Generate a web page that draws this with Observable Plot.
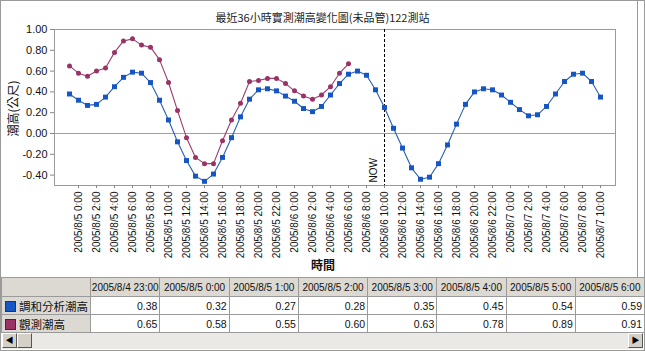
<!DOCTYPE html>
<html><head><meta charset="utf-8">
<script src="https://cdn.jsdelivr.net/npm/d3@7"></script>
<script src="https://cdn.jsdelivr.net/npm/@observablehq/plot@0.6"></script>
<style>
body{margin:0;background:#fff;font-family:"Liberation Sans",Arial,"Noto Sans CJK TC",sans-serif;}
#wrap{position:relative;width:645px;height:351px;overflow:hidden;background:#fff;}
#border{position:absolute;left:0;top:0;width:645px;height:351px;box-sizing:border-box;border:1px solid #9a9a9a;pointer-events:none;}
#panel{position:absolute;left:637px;top:0;width:1px;height:277px;background:#9a9a9a;}
#title{position:absolute;top:9px;left:0;width:645px;text-align:center;font-size:11px;color:#222;font-family:"Noto Sans CJK TC","Liberation Sans",sans-serif;}
#chart{position:absolute;left:0;top:0;}
#tbl{position:absolute;left:1px;top:277px;border-collapse:collapse;table-layout:fixed;font-size:10.5px;color:#111;}
#tbl td{border:1px solid #9a9a9a;padding:0 2px;white-space:nowrap;overflow:hidden;}
#tbl tr.h td{height:18px;background:#dcd9d3;text-align:center;font-size:10px;padding:0;}
#tbl tr.b td{height:17px;text-align:right;background:#fff;}
#tbl tr.b td.lab{background:#dcd9d3;text-align:left;font-size:11.5px;font-family:"Noto Sans CJK TC",sans-serif;padding-left:3px;}
.sw{display:inline-block;width:9px;height:9px;border:1px solid #333;vertical-align:-1px;margin-right:3px;}
#scroll{position:absolute;left:2px;top:333px;width:641px;height:16px;background:#ebe9e5;}
.btn{position:absolute;top:0;width:15px;height:15px;background:#d4d0c8;border:1px solid;border-color:#fff #555 #555 #fff;box-sizing:border-box;font-size:8px;line-height:13px;text-align:center;color:#000;}
</style></head>
<body>
<div id="wrap">
<div id="chart"></div>
<div id="title"></div>
<div id="panel"></div>
<table id="tbl"></table>
<div id="scroll"><div class="btn" style="left:0">◀</div><div class="btn" style="left:15px"></div><div class="btn" style="right:0">▶</div></div>
<div id="border"></div>
</div>
<script>
const titleText = "最近36小時實測潮高變化圖(未品管)122測站";
const yLabel = "潮高(公尺)";
const xLabel = "時間";
const nowTime = "2005/8/6 10:00";
const nowText = "NOW";
const seriesNames = ["調和分析潮高", "觀測潮高"];
const seriesColors = ["#1656c4", "#993366"];
const yTicks = [-0.4, -0.2, 0, 0.2, 0.4, 0.6, 0.8, 1.0];
const times = [
"2005/8/4 23:00",
"2005/8/5 0:00","2005/8/5 1:00","2005/8/5 2:00","2005/8/5 3:00","2005/8/5 4:00","2005/8/5 5:00",
"2005/8/5 6:00","2005/8/5 7:00","2005/8/5 8:00","2005/8/5 9:00","2005/8/5 10:00","2005/8/5 11:00",
"2005/8/5 12:00","2005/8/5 13:00","2005/8/5 14:00","2005/8/5 15:00","2005/8/5 16:00","2005/8/5 17:00",
"2005/8/5 18:00","2005/8/5 19:00","2005/8/5 20:00","2005/8/5 21:00","2005/8/5 22:00","2005/8/5 23:00",
"2005/8/6 0:00","2005/8/6 1:00","2005/8/6 2:00","2005/8/6 3:00","2005/8/6 4:00","2005/8/6 5:00",
"2005/8/6 6:00","2005/8/6 7:00","2005/8/6 8:00","2005/8/6 9:00","2005/8/6 10:00","2005/8/6 11:00",
"2005/8/6 12:00","2005/8/6 13:00","2005/8/6 14:00","2005/8/6 15:00","2005/8/6 16:00","2005/8/6 17:00",
"2005/8/6 18:00","2005/8/6 19:00","2005/8/6 20:00","2005/8/6 21:00","2005/8/6 22:00","2005/8/6 23:00",
"2005/8/7 0:00","2005/8/7 1:00","2005/8/7 2:00","2005/8/7 3:00","2005/8/7 4:00","2005/8/7 5:00",
"2005/8/7 6:00","2005/8/7 7:00","2005/8/7 8:00","2005/8/7 9:00","2005/8/7 10:00"
];
const xTickLabels = [
"2005/8/5 0:00","2005/8/5 2:00","2005/8/5 4:00","2005/8/5 6:00","2005/8/5 8:00","2005/8/5 10:00",
"2005/8/5 12:00","2005/8/5 14:00","2005/8/5 16:00","2005/8/5 18:00","2005/8/5 20:00","2005/8/5 22:00",
"2005/8/6 0:00","2005/8/6 2:00","2005/8/6 4:00","2005/8/6 6:00","2005/8/6 8:00","2005/8/6 10:00",
"2005/8/6 12:00","2005/8/6 14:00","2005/8/6 16:00","2005/8/6 18:00","2005/8/6 20:00","2005/8/6 22:00",
"2005/8/7 0:00","2005/8/7 2:00","2005/8/7 4:00","2005/8/7 6:00","2005/8/7 8:00","2005/8/7 10:00"
];
const harmonic = [
0.38,0.32,0.27,0.28,0.35,0.45,0.54,0.59,0.58,0.49,
0.32,0.13,-0.08,-0.26,-0.41,-0.46,-0.39,-0.23,-0.04,0.16,
0.33,0.42,0.43,0.41,0.36,0.31,0.24,0.21,0.26,0.37,
0.48,0.57,0.60,0.56,0.42,0.25,0.05,-0.14,-0.33,-0.44,
-0.42,-0.29,-0.11,0.09,0.28,0.40,0.43,0.42,0.37,0.30,
0.23,0.17,0.18,0.26,0.38,0.50,0.57,0.58,0.50,0.35
];
const observed = [
0.65,0.58,0.55,0.60,0.63,0.78,0.89,0.91,0.85,0.83,
0.71,0.49,0.22,-0.04,-0.23,-0.29,-0.29,-0.07,0.13,0.29,
0.50,0.51,0.53,0.53,0.48,0.41,0.36,0.33,0.37,0.45,
0.58,0.67
];
const tableCols = 8;

document.getElementById("title").textContent = titleText;

const hData = harmonic.map((v, i) => ({t: times[i], v}));
const oData = observed.map((v, i) => ({t: times[i], v}));

const chart = Plot.plot({
  width: 645, height: 277,
  marginLeft: 54, marginRight: 30, marginTop: 29, marginBottom: 92,
  style: {fontFamily: "'Liberation Sans', Arial, sans-serif", background: "transparent", color: "#111"},
  x: {type: "point", domain: times, padding: 0.5},
  y: {domain: [-0.5, 1.0]},
  marks: [
    Plot.ruleY([0], {stroke: "#a0a0a0"}),
    Plot.frame({stroke: "#9a9a9a"}),
    Plot.axisY({ticks: yTicks, tickFormat: d => d.toFixed(2), tickSize: 4, tickPadding: 3, fontSize: 11, label: null, stroke: "#888"}),
    Plot.axisX({ticks: xTickLabels, tickRotate: -90, tickSize: 3, tickPadding: 3, fontSize: 10, label: null, stroke: "#888"}),
    Plot.ruleX([nowTime], {stroke: "#000", strokeDasharray: "3,2"}),
    Plot.text([nowTime], {x: d => d, frameAnchor: "bottom", text: () => nowText, rotate: -90, textAnchor: "start", dx: -8, dy: -3, fontSize: 10}),
    Plot.text([yLabel], {frameAnchor: "left", text: d => d, rotate: -90, dx: -40, dy: 29, fontSize: 12, fontFamily: "'Noto Sans CJK TC', sans-serif"}),
    Plot.text([xLabel], {frameAnchor: "bottom", text: d => d, dx: -12, dy: 84, fontSize: 12, fontFamily: "'Noto Sans CJK TC', sans-serif", fontWeight: "bold"}),
    Plot.lineY(oData, {x: "t", y: "v", stroke: "#9c3c6c", strokeWidth: 1.1}),
    Plot.dot(oData, {x: "t", y: "v", r: 2.5, fill: seriesColors[1], stroke: null}),
    Plot.lineY(hData, {x: "t", y: "v", stroke: "#2a5fb5", strokeWidth: 1.1}),
    Plot.dot(hData, {x: "t", y: "v", symbol: "square", r: 2.8, fill: seriesColors[0], stroke: null})
  ]
});
document.getElementById("chart").appendChild(chart);

// data table
const tbl = d3.select("#tbl");
const cg = tbl.append("colgroup");
cg.append("col").style("width", "87px");
for (let i = 0; i < tableCols; i++) cg.append("col").style("width", "69.5px");
const hr = tbl.append("tr").attr("class", "h");
hr.append("td");
times.slice(0, tableCols).forEach(t => hr.append("td").text(t));
[harmonic, observed].forEach((vals, si) => {
  const r = tbl.append("tr").attr("class", "b");
  const lab = r.append("td").attr("class", "lab");
  lab.append("span").attr("class", "sw").style("background", seriesColors[si]);
  lab.append("span").text(seriesNames[si]);
  vals.slice(0, tableCols).forEach(v => r.append("td").text(v.toFixed(2)));
});
</script>
</body></html>
